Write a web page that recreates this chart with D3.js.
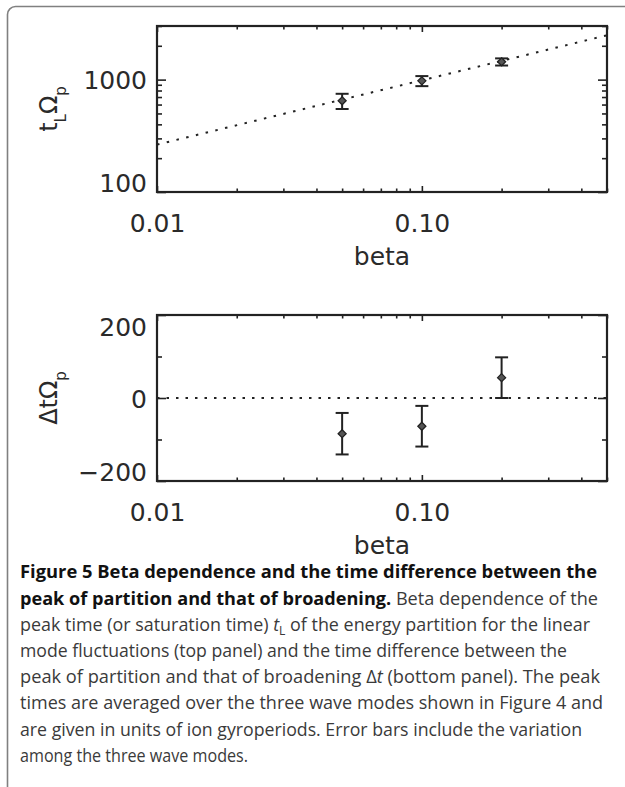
<!DOCTYPE html>
<html>
<head>
<meta charset="utf-8">
<script src="https://cdn.jsdelivr.net/npm/d3@7"></script>
<style>
  body { margin: 0; background: #fff; }
  svg { display: block; }
  .tick text { font-family: "DejaVu Sans", sans-serif; font-size: 25px; fill: #2a2a2a; }
</style>
</head>
<body>
<svg id="fig" width="625" height="787"></svg>
<script>
/* values */
const betas = [0.05, 0.10, 0.20];
const peakTime = [648, 975, 1440];
const peakErr = [100, 100, 105];
const fitLine = [[0.01, 264], [0.5, 2480]]; // dotted fit, its two end points

const deltaT = [-86, -68, 49];
const deltaErr = [50, 49, 49];

const xTickValues = [0.01, 0.1];
const xTickLabels = ["0.01", "0.10"];
const topYTicks = [100, 1000];
const topYLabels = ["100", "1000"];
const botYTicks = [-200, 0, 200];
const botYLabels = ["\u2212200", "0", "200"];

const ink = "#222";
const svg = d3.select("#fig");

// outer frame of the figure card (runs off the right and bottom)
svg.append("rect")
  .attr("x", 7.5).attr("y", 6.5)
  .attr("width", 700).attr("height", 900)
  .attr("rx", 8)
  .attr("fill", "none")
  .attr("stroke", "#808080")
  .attr("stroke-width", 1.6);

const x = d3.scaleLog().domain([0.01, 0.5]).range([157, 607]);

function drawPanel(y, top, bottom, opts) {
  const g = svg.append("g");
  const left = x.range()[0], right = x.range()[1];

  // ticks, x (both edges, inward)
  const xAll = x.ticks();
  const isMajorX = d => Math.abs(Math.log10(d) - Math.round(Math.log10(d))) < 1e-6;
  const xMinor = xAll.filter(d => !isMajorX(d));
  const xMajor = xAll.filter(isMajorX);
  [[xMajor, 6], [xMinor, 3.5]].forEach(([vals, len]) => {
    g.append("g").attr("transform", `translate(0,${bottom})`)
      .call(d3.axisBottom(x).tickValues(vals).tickSize(-len).tickFormat(""));
    g.append("g").attr("transform", `translate(0,${top})`)
      .call(d3.axisTop(x).tickValues(vals).tickSize(-len).tickFormat(""));
  });

  // ticks, y (both edges, inward)
  [[opts.yMajor, 9], [opts.yMinor, 5]].forEach(([vals, len]) => {
    g.append("g").attr("transform", `translate(${left},0)`)
      .call(d3.axisLeft(y).tickValues(vals).tickSize(-len).tickFormat(""));
    g.append("g").attr("transform", `translate(${right},0)`)
      .call(d3.axisRight(y).tickValues(vals).tickSize(-len).tickFormat(""));
  });
  g.selectAll(".domain").remove();
  g.selectAll(".tick line").attr("stroke", ink).attr("stroke-width", 1.6);

  // frame
  g.append("rect")
    .attr("x", left).attr("y", top)
    .attr("width", right - left).attr("height", bottom - top)
    .attr("fill", "none").attr("stroke", ink).attr("stroke-width", 2.2);

  // x labels
  const xl = g.append("g").attr("transform", `translate(0,${bottom})`)
    .call(d3.axisBottom(x).tickValues(xTickValues).tickSize(0).tickPadding(22)
      .tickFormat((d, i) => xTickLabels[i]));
  xl.select(".domain").remove();

  // y labels, kept inside the frame at the ends
  const yl = g.append("g").attr("transform", `translate(${left},0)`)
    .call(d3.axisLeft(y).tickValues(opts.yLabelTicks).tickSize(0).tickPadding(10)
      .tickFormat((d, i) => opts.yLabels[i]));
  yl.select(".domain").remove();
  yl.selectAll(".tick text")
    .attr("dy", "0.36em")
    .attr("y", d => {
      const ty = y(d);
      const c = Math.max(top + 11, Math.min(bottom - 9.5, ty));
      return c - ty;
    });

  // x title
  g.append("text")
    .attr("x", (left + right) / 2).attr("y", bottom + 73)
    .attr("text-anchor", "middle")
    .attr("font-family", "DejaVu Sans, sans-serif")
    .attr("font-size", 25).attr("fill", "#2a2a2a")
    .text("beta");

  // y title
  const yt = g.append("text")
    .attr("transform", `translate(57,${(top + bottom) / 2}) rotate(-90)`)
    .attr("text-anchor", "middle")
    .attr("font-family", "DejaVu Sans, sans-serif")
    .attr("font-size", 24).attr("fill", "#2a2a2a");
  let shift = 0;
  opts.yTitle.forEach(part => {
    if (part.sub) {
      yt.append("tspan").attr("font-size", 15).attr("dy", 9 - shift).text(part.sub);
      shift = 9;
    } else {
      yt.append("tspan").attr("dy", -shift).text(part.t);
      shift = 0;
    }
  });

  return g;
}

function drawPoints(g, y, vals, errs) {
  const pts = g.selectAll("g.pt")
    .data(betas.map((b, i) => ({ b, v: vals[i], e: errs[i] })))
    .enter().append("g").attr("class", "pt");

  pts.append("line")
    .attr("x1", d => x(d.b)).attr("x2", d => x(d.b))
    .attr("y1", d => y(d.v - d.e)).attr("y2", d => y(d.v + d.e))
    .attr("stroke", ink).attr("stroke-width", 2);
  [-1, 1].forEach(s => {
    pts.append("line")
      .attr("x1", d => x(d.b) - 6.5).attr("x2", d => x(d.b) + 6.5)
      .attr("y1", d => y(d.v + s * d.e)).attr("y2", d => y(d.v + s * d.e))
      .attr("stroke", ink).attr("stroke-width", 2);
  });
  pts.append("path")
    .attr("d", d => {
      const cx = x(d.b), cy = y(d.v), r = 4;
      return `M${cx},${cy - r}L${cx + r},${cy}L${cx},${cy + r}L${cx - r},${cy}Z`;
    })
    .attr("fill", "#555").attr("stroke", ink).attr("stroke-width", 1.3);
}

/* top panel */
const yTop = d3.scaleLog().domain([100, 3000]).range([192, 26]);
const gTop = drawPanel(yTop, 26, 192, {
  yMajor: [100, 1000],
  yMinor: yTop.ticks().filter(d => d !== 100 && d !== 1000),
  yLabelTicks: topYTicks,
  yLabels: topYLabels,
  yTitle: [{ t: "t" }, { sub: "L" }, { t: "\u03A9" }, { sub: "p" }]
});
gTop.append("path")
  .datum(fitLine)
  .attr("d", d3.line().x(d => x(d[0])).y(d => yTop(d[1])))
  .attr("fill", "none").attr("stroke", ink)
  .attr("stroke-width", 2).attr("stroke-dasharray", "2.5 7.5");
drawPoints(gTop, yTop, peakTime, peakErr);

/* bottom panel */
const yBot = d3.scaleLinear().domain([-200, 200]).range([481, 315]);
const gBot = drawPanel(yBot, 315, 481, {
  yMajor: [-200, 0, 200],
  yMinor: [-100, 100],
  yLabelTicks: botYTicks,
  yLabels: botYLabels,
  yTitle: [{ t: "\u0394t\u03A9" }, { sub: "p" }]
});
gBot.append("line")
  .attr("x1", x(0.01)).attr("x2", x(0.5))
  .attr("y1", yBot(0)).attr("y2", yBot(0))
  .attr("stroke", ink).attr("stroke-width", 2).attr("stroke-dasharray", "2.5 7");
drawPoints(gBot, yBot, deltaT, deltaErr);

/* caption */
const captionLines = [
  { w: 577, parts: [{ b: "Figure 5 Beta dependence and the time difference between the" }] },
  { w: 578, parts: [{ b: "peak of partition and that of broadening." }, { t: " Beta dependence of the" }] },
  { w: 570, parts: [{ t: "peak time (or saturation time) " }, { i: "t" }, { sub: "L" }, { t: " of the energy partition for the linear" }] },
  { w: 547, parts: [{ t: "mode fluctuations (top panel) and the time difference between the" }] },
  { w: 580, parts: [{ t: "peak of partition and that of broadening \u0394" }, { i: "t" }, { t: " (bottom panel). The peak" }] },
  { w: 583, parts: [{ t: "times are averaged over the three wave modes shown in Figure\u00A04 and" }] },
  { w: 562, parts: [{ t: "are given in units of ion gyroperiods. Error bars include the variation" }] },
  { w: 228, parts: [{ t: "among the three wave modes." }] }
];

const cap = svg.append("g")
  .attr("font-family", "Open Sans, Noto Sans, sans-serif")
  .attr("font-size", 18.5);

captionLines.forEach((line, i) => {
  const t = cap.append("text")
    .attr("x", 20).attr("y", 578.3 + i * 26.2)
    .attr("textLength", line.w)
    .attr("lengthAdjust", "spacingAndGlyphs")
    .attr("fill", "#3a3a3a");
  let shift = 0;
  line.parts.forEach(p => {
    if (p.b) t.append("tspan").attr("font-weight", 700).attr("fill", "#111").text(p.b);
    else if (p.i) t.append("tspan").attr("font-style", "italic").attr("dy", -shift).text(p.i), shift = 0;
    else if (p.sub) {
      t.append("tspan").attr("font-size", 12.5).attr("dy", 4 - shift).text(p.sub);
      shift = 4;
    } else {
      t.append("tspan").attr("dy", -shift).text(p.t);
      shift = 0;
    }
  });
});
</script>
</body>
</html>
